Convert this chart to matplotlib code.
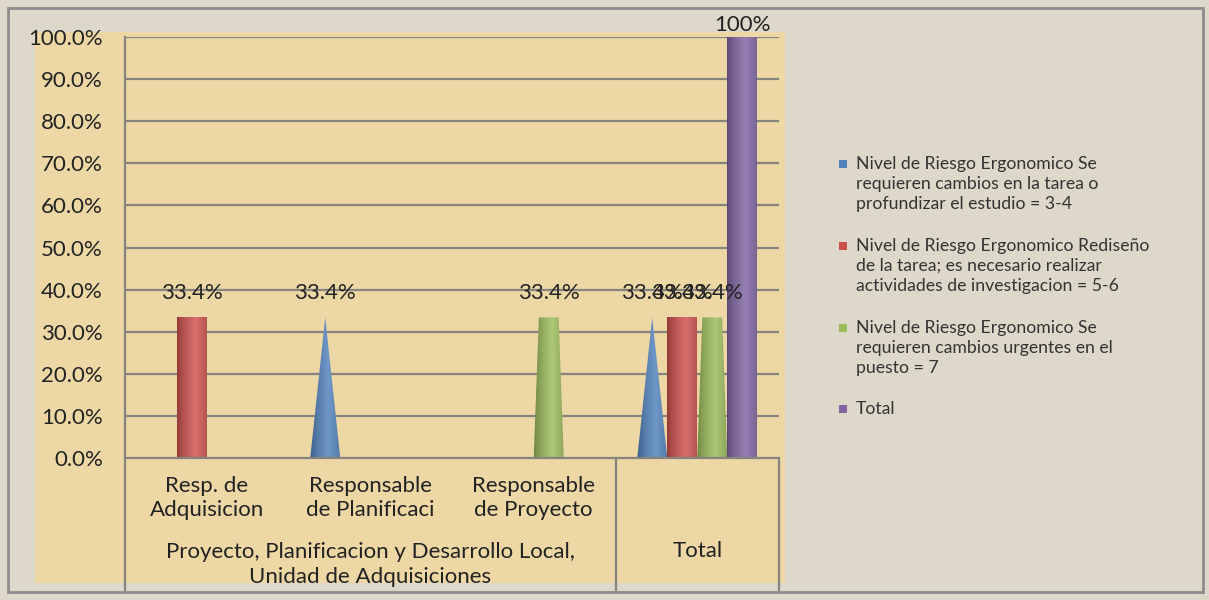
import numpy as np
import matplotlib
matplotlib.use("Agg")
import matplotlib.pyplot as plt
from matplotlib.patches import Polygon, Rectangle
from matplotlib.colors import to_rgb

plt.rcParams['font.family'] = ['Lato', 'DejaVu Sans']

# --- data ---
categories = ["Resp. de\nAdquisicion", "Responsable\nde Planificaci",
              "Responsable\nde Proyecto", ""]
groups = ["Proyecto, Planificacion y Desarrollo Local,\nUnidad de Adquisiciones", "Total"]
group_spans = [(0, 2), (3, 3)]
series_names = [
    "Nivel de Riesgo Ergonomico Se\nrequieren cambios en la tarea o\nprofundizar el estudio = 3-4",
    "Nivel de Riesgo Ergonomico Rediseño\nde la tarea; es necesario realizar\nactividades de investigacion = 5-6",
    "Nivel de Riesgo Ergonomico Se\nrequieren cambios urgentes en el\npuesto = 7",
    "Total",
]
blue_vals = [0.0, 0.334, 0.0, 0.334]
red_vals = [0.334, 0.0, 0.0, 0.334]
green_vals = [0.0, 0.0, 0.334, 0.334]
purple_vals = [0.0, 0.0, 0.0, 1.0]
value_labels = [["", "33.4%", "", "33.4%"],
                ["33.4%", "", "", "33.4%"],
                ["", "", "33.4%", "33.4%"],
                ["", "", "", "100%"]]
colors = ["#4F81BD", "#CF4F4B", "#9BBB59", "#8064A2"]
shapes = ["cone", "cylinder", "taper", "cylinder"]

fig = plt.figure(figsize=(12.09, 6.0), dpi=100)
fig.patch.set_facecolor("#ddd8c9")
# outer frame and tan chart area
fig.patches.append(Rectangle((8 / 1209, 8 / 600), 1195 / 1209, 584 / 600, transform=fig.transFigure,
                             facecolor="#ddd8c9", edgecolor="#8c8c8c", lw=2, zorder=-2))
fig.patches.append(Rectangle((35 / 1209, 17 / 600), 750 / 1209, 551 / 600, transform=fig.transFigure,
                             facecolor="#ecd7a5", edgecolor="none", zorder=-1))

ax = fig.add_axes([125 / 1209, 142 / 600, 654 / 1209, 421 / 600])
ax.set_facecolor("none")

w = 0.1835
all_vals = [blue_vals, red_vals, green_vals, purple_vals]


def shade(color, n=64):
    base = np.array(to_rgb(color))
    t = np.linspace(0, 1, n)
    light = np.clip(1 - np.abs(t - 0.6) / 0.6, 0, 1) ** 0.7
    dark = base * 0.7
    hi = base + (1 - base) * 0.18
    cols = dark[None, :] + (hi - dark)[None, :] * light[:, None]
    return cols[None, :, :]


for k, vals in enumerate(all_vals):
    for i, v in enumerate(vals):
        if v <= 0:
            continue
        x = i + (k - 1.5) * w
        if shapes[k] == "cone":
            pts = [(x - w / 2, 0), (x + w / 2, 0), (x, v)]
        elif shapes[k] == "taper":
            pts = [(x - w / 2, 0), (x + w / 2, 0), (x + 0.33 * w, v), (x - 0.33 * w, v)]
        else:
            pts = [(x - w / 2, 0), (x + w / 2, 0), (x + w / 2, v), (x - w / 2, v)]
        poly = Polygon(pts, closed=True, facecolor="none", edgecolor="none")
        ax.add_patch(poly)
        im = ax.imshow(shade(colors[k]), extent=[x - w / 2, x + w / 2, 0, v],
                       aspect="auto", zorder=3, interpolation="bilinear")
        im.set_clip_path(poly)
        off = 24 if v < 0.9 else 12
        ax.annotate(value_labels[k][i], (x, v), xytext=(0, off), textcoords="offset pixels",
                    ha="center", va="center", fontsize=16, color="#222222", zorder=5,
                    annotation_clip=False)

ax.set_xlim(-0.5, 3.5)
ax.set_ylim(0, 1.0)
ax.set_yticks(np.arange(0, 1.01, 0.1))
ax.set_yticklabels([f"{t * 100:.1f}%" for t in np.arange(0, 1.01, 0.1)], fontsize=16, color="#222222")
ax.tick_params(axis="y", length=0, pad=16)
ax.set_xticks([])
for t in np.arange(0.1, 1.01, 0.1):
    ax.axhline(t, color="#878480", lw=1.6, zorder=1)
for s in ["top", "right", "bottom", "left"]:
    ax.spines[s].set_visible(False)

# category axis box
tr = ax.get_xaxis_transform()
box_bottom = -0.3135
ax.plot([-0.5, 3.5], [0, 0], transform=tr, color="#878480", lw=1.6, clip_on=False, zorder=4)
ax.plot([-0.5, -0.5], [box_bottom, 1.0], transform=tr, color="#878480", lw=1.6, clip_on=False, zorder=4)
for xb in [2.5, 3.5]:
    ax.plot([xb, xb], [box_bottom, 0], transform=tr, color="#878480", lw=1.6, clip_on=False, zorder=4)

for i, c in enumerate(categories):
    ax.text(i, -0.095, c, transform=tr, ha="center", va="center", fontsize=16,
            color="#222222", linespacing=1.28)
for g, (a, b) in zip(groups, group_spans):
    yy = -0.253 if "\n" in g else -0.221
    ax.text((a + b) / 2, yy, g, transform=tr, ha="center", va="center", fontsize=16,
            color="#222222", linespacing=1.28)

# legend
leg_y = [164, 246, 328, 409]
for name, col, yy in zip(series_names, colors, leg_y):
    fig.patches.append(Rectangle((839 / 1209, (600 - yy - 4) / 600), 8 / 1209, 8 / 600,
                                 transform=fig.transFigure, facecolor=col, edgecolor="none"))
    fig.text(856 / 1209, (600 - yy + 8) / 600, name, ha="left", va="top", fontsize=12.7,
             color="#333333", linespacing=1.3)

fig.savefig("out.png", dpi=100, facecolor=fig.get_facecolor())
